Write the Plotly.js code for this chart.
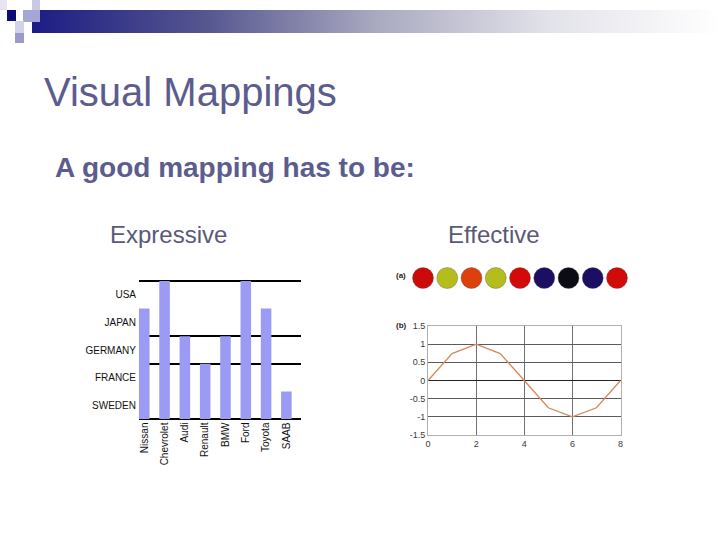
<!DOCTYPE html>
<html>
<head>
<meta charset="utf-8">
<script src="https://cdn.plot.ly/plotly-3.0.1.min.js"></script>
<style>
  html, body { margin: 0; padding: 0; background: #ffffff; }
  #wrap { position: relative; width: 720px; height: 540px; overflow: hidden; }
  .deco { position: absolute; }
  #chart { position: absolute; left: 0; top: 0; width: 720px; height: 540px; }
</style>
</head>
<body>
<div id="wrap">
  <div class="deco" style="left:32px;top:10px;width:688px;height:23px;background:linear-gradient(to right,#1c1c84 0%,#55558f 25%,#a9a9c0 50%,#e2e2ea 75%,#ffffff 100%);"></div>
  <div class="deco" style="left:0px;top:0px;width:7px;height:10px;background:#e6e6f2;"></div>
  <div class="deco" style="left:32px;top:0px;width:8px;height:10px;background:#c9c9e4;"></div>
  <div class="deco" style="left:7px;top:10px;width:9px;height:11px;background:#0c0c78;"></div>
  <div class="deco" style="left:23px;top:10px;width:17px;height:12px;background:#a6a6d6;"></div>
  <div class="deco" style="left:15px;top:21px;width:9px;height:12px;background:#d2d2ea;"></div>
  <div class="deco" style="left:15px;top:33px;width:9px;height:10px;background:#9a9acc;"></div>
  <div id="chart"></div>
</div>
<script>
// ---- Expressive chart data ----
var cars = ["Nissan", "Chevrolet", "Audi", "Renault", "BMW", "Ford", "Toyota", "SAAB"];
var countryLevel = [4, 5, 3, 2, 3, 5, 4, 1];
var countries = ["SWEDEN", "FRANCE", "GERMANY", "JAPAN", "USA"];
var countryLabelPos = [0.5, 1.5, 2.5, 3.5, 4.5];
var gridLevels = [0, 2, 3, 5];

// ---- Effective chart data ----
var dotIndex = [0, 1, 2, 3, 4, 5, 6, 7, 8];
var dotColors = ["#cc0a0a", "#b5bd1c", "#dc400c", "#b5bd1c", "#d20a0a", "#1c0e62", "#0c0c14", "#1c0e62", "#d20a0a"];
var lineX = [0, 1, 2, 3, 4, 5, 6, 7, 8];
var lineY = [0, 0.74, 1, 0.74, 0, -0.75, -1, -0.75, 0];
var lineXTicks = [0, 2, 4, 6, 8];
var lineYTicks = [-1.5, -1, -0.5, 0, 0.5, 1, 1.5];
var lineYTickText = ["-1.5", "-1", "-0.5", "0", "0.5", "1", "1.5"];

var W = 720, H = 540;
function px(x) { return x / W; }
function py(y) { return 1 - y / H; }

var traces = [
  {
    type: "bar", x: cars, y: countryLevel, xaxis: "x", yaxis: "y",
    marker: { color: "#9b9bf5", line: { width: 0 } }, width: 0.52,
    hoverinfo: "x+y", showlegend: false
  },
  {
    // invisible companion trace so the country-label axis is drawn
    type: "scatter", mode: "markers", x: cars, y: countryLevel, xaxis: "x", yaxis: "y2",
    marker: { size: 1, opacity: 0 }, showlegend: false, hoverinfo: "skip"
  },
  {
    type: "scatter", mode: "markers", x: dotIndex, y: dotIndex.map(function () { return 0; }),
    xaxis: "x3", yaxis: "y3",
    marker: { size: 21, color: dotColors, line: { color: "rgba(80,80,80,0.35)", width: 1 } },
    showlegend: false, hoverinfo: "skip"
  },
  {
    type: "scatter", mode: "lines", x: lineX, y: lineY, xaxis: "x4", yaxis: "y4",
    line: { color: "#d6875a", width: 1.3 }, showlegend: false
  }
];

var tickFont = { family: "Liberation Sans, Arial, sans-serif", size: 10, color: "#111111" };
var smallFont = { family: "Liberation Sans, Arial, sans-serif", size: 9, color: "#3a3a3a" };

var yRange = [-0.02, 5.1];

var layout = {
  width: W, height: H,
  margin: { l: 0, r: 0, t: 0, b: 0 },
  paper_bgcolor: "rgba(0,0,0,0)",
  plot_bgcolor: "rgba(0,0,0,0)",
  showlegend: false,
  bargap: 0.48,
  xaxis: {
    domain: [px(139), px(301)], range: [-0.26, 7.72], type: "category",
    showgrid: false, zeroline: false, showline: false,
    tickangle: -90, tickfont: tickFont, ticks: "", fixedrange: true
  },
  yaxis: {
    domain: [py(419.55), py(278.24)], range: yRange,
    tickvals: gridLevels, showticklabels: false, ticks: "",
    showgrid: true, gridcolor: "#000000", gridwidth: 1.5,
    zeroline: true, zerolinecolor: "#000000", zerolinewidth: 1.5,
    showline: false, fixedrange: true
  },
  yaxis2: {
    overlaying: "y", anchor: "x", side: "left", range: yRange,
    tickvals: countryLabelPos, ticktext: countries, tickfont: tickFont,
    ticklabelstandoff: 2,
    showgrid: false, zeroline: false, showline: false, ticks: "", fixedrange: true
  },
  xaxis3: {
    domain: [px(385), px(640)], range: [-1.567, 8.948], anchor: "y3",
    visible: false, fixedrange: true
  },
  yaxis3: {
    domain: [py(292), py(264)], range: [-1, 1], anchor: "x3",
    visible: false, fixedrange: true
  },
  xaxis4: {
    domain: [px(428), px(620.5)], range: [0, 8], anchor: "y4",
    tickvals: lineXTicks, tickfont: smallFont, ticks: "",
    showgrid: true, gridcolor: "#707070", gridwidth: 1,
    zeroline: false, showline: true, mirror: true, linecolor: "#b0b0b0", linewidth: 1,
    fixedrange: true
  },
  yaxis4: {
    domain: [py(435), py(326)], range: [-1.5, 1.5], anchor: "x4",
    tickvals: lineYTicks, ticktext: lineYTickText, tickfont: smallFont, ticks: "",
    showgrid: true, gridcolor: "#5a5a5a", gridwidth: 1,
    zeroline: true, zerolinecolor: "#222222", zerolinewidth: 1,
    showline: true, mirror: true, linecolor: "#b0b0b0", linewidth: 1,
    fixedrange: true
  },
  annotations: [
    { text: "Visual Mappings", xref: "paper", yref: "paper", x: px(42), y: py(92),
      xanchor: "left", yanchor: "middle", showarrow: false,
      font: { family: "Liberation Sans, Arial, sans-serif", size: 40, color: "#5c5c8e" } },
    { text: "<b>A good mapping has to be:</b>", xref: "paper", yref: "paper", x: px(53), y: py(167),
      xanchor: "left", yanchor: "middle", showarrow: false,
      font: { family: "Liberation Sans, Arial, sans-serif", size: 28, color: "#5c5c8e" } },
    { text: "Expressive", xref: "paper", yref: "paper", x: px(108), y: py(235),
      xanchor: "left", yanchor: "middle", showarrow: false,
      font: { family: "Liberation Sans, Arial, sans-serif", size: 24, color: "#5a5a78" } },
    { text: "Effective", xref: "paper", yref: "paper", x: px(446), y: py(235),
      xanchor: "left", yanchor: "middle", showarrow: false,
      font: { family: "Liberation Sans, Arial, sans-serif", size: 24, color: "#5a5a78" } },
    { text: "<b>(a)</b>", xref: "paper", yref: "paper", x: px(394), y: py(275),
      xanchor: "left", yanchor: "middle", showarrow: false,
      font: { family: "Liberation Sans, Arial, sans-serif", size: 8, color: "#222222" } },
    { text: "<b>(b)</b>", xref: "paper", yref: "paper", x: px(394), y: py(325),
      xanchor: "left", yanchor: "middle", showarrow: false,
      font: { family: "Liberation Sans, Arial, sans-serif", size: 8, color: "#222222" } }
  ]
};

Plotly.newPlot("chart", traces, layout, { staticPlot: true, displayModeBar: false });
</script>
</body>
</html>
